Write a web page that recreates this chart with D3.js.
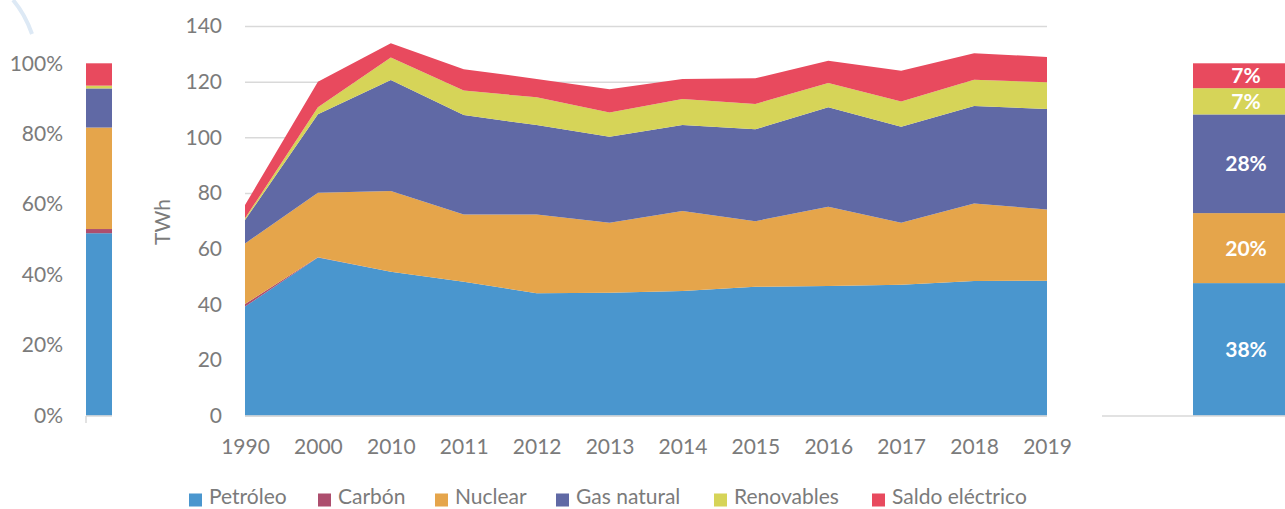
<!DOCTYPE html>
<html>
<head>
<meta charset="utf-8">
<script src="https://cdn.jsdelivr.net/npm/d3@7"></script>
<style>
    body { margin: 0; background: #fff; }
    svg text { font-family: Lato, "Open Sans", sans-serif; fill: #7b7b7b; }
</style>
</head>
<body>
<div id="canvas"></div>
<script>
var years = ["1990", "2000", "2010", "2011", "2012", "2013", "2014", "2015", "2016", "2017", "2018", "2019"]
var sources = ["Petróleo", "Carbón", "Nuclear", "Gas natural", "Renovables", "Saldo eléctrico"]
var colors = ["#4a96ce", "#ad4e6e", "#e5a54b", "#6069a5", "#d6d458", "#e84a5e"]

var petroleo = [39.2, 56.8, 51.7, 48.1, 44.0, 44.2, 44.8, 46.3, 46.6, 47.0, 48.4, 48.5]
var carbon = [0.9, 0.1, 0, 0, 0, 0, 0, 0, 0, 0, 0, 0]
var nuclear = [21.8, 23.2, 29.0, 24.2, 28.3, 25.1, 28.7, 23.6, 28.5, 22.3, 27.8, 25.6]
var gas = [8.4, 28.2, 39.9, 35.7, 32.1, 30.9, 30.9, 33.0, 35.7, 34.5, 35.1, 36.1]
var renovables = [0.6, 2.5, 8.1, 8.8, 10.0, 8.7, 9.4, 9.1, 8.7, 9.1, 9.4, 9.6]
var saldo = [4.8, 9.2, 5.1, 7.7, 6.6, 8.4, 7.2, 9.2, 8.0, 11.0, 9.5, 9.1]

var yTicks = [0, 20, 40, 60, 80, 100, 120, 140]
var pctTicks = [0, 0.2, 0.4, 0.6, 0.8, 1]

var series = [petroleo, carbon, nuclear, gas, renovables, saldo]
var table = years.map(function(yr, i) {
    var row = {year: yr}
    sources.forEach(function(s, j) { row[s] = series[j][i] })
    return row
})

var width = 1285
var height = 509
var grey = "#d9d9d9"

var svg = d3.select("#canvas").append("svg")
    .attr("width", width)
    .attr("height", height)

// faint watermark arc, top left
svg.append("path")
    .attr("d", "M13,0 Q25,14 32,34")
    .attr("fill", "none")
    .attr("stroke", "#dde9f5")
    .attr("stroke-width", 4)

// ---- main area chart ----
var x = d3.scalePoint().domain(years).range([245, 1047])
var y = d3.scaleLinear().domain([0, 140]).range([415.7, 26])

svg.append("g")
    .attr("transform", "translate(245,0)")
    .call(d3.axisLeft(y).tickValues(yTicks).tickSize(-802).tickFormat(""))
    .call(function(g) {
        g.select(".domain").remove()
        g.selectAll("line").attr("stroke", grey).attr("stroke-width", 1.5)
    })

var stack = d3.stack().keys(sources)
var layers = stack(table)

var area = d3.area()
    .x(function(d) { return x(d.data.year) })
    .y0(function(d) { return y(d[0]) })
    .y1(function(d) { return y(d[1]) })

svg.append("g").selectAll("path")
    .data(layers)
    .join("path")
    .attr("d", area)
    .attr("fill", function(d, i) { return colors[i] })

svg.append("line")
    .attr("x1", 245).attr("x2", 1047)
    .attr("y1", 416).attr("y2", 416)
    .attr("stroke", grey).attr("stroke-width", 1.5)

svg.append("g")
    .attr("transform", "translate(245,0)")
    .call(d3.axisLeft(y).tickValues(yTicks).tickSize(0).tickPadding(23))
    .call(function(g) {
        g.select(".domain").remove()
        g.selectAll("text").style("font-size", "21px").attr("fill", "#7b7b7b")
    })

svg.append("g")
    .attr("transform", "translate(0,415.7)")
    .call(d3.axisBottom(x).tickSize(0).tickPadding(23))
    .call(function(g) {
        g.select(".domain").remove()
        g.selectAll("text").style("font-size", "21px").attr("fill", "#7b7b7b")
    })

svg.append("text")
    .attr("transform", "translate(162.5,222) rotate(-90)")
    .attr("text-anchor", "middle")
    .attr("dy", "0.35em")
    .style("font-size", "21px")
    .text("TWh")

// ---- share bars (1990 left, 2019 right) ----
var pct = d3.scaleLinear().domain([0, 1]).range([415.7, 63.3])

function shares(i) {
    var total = d3.sum(series, function(s) { return s[i] })
    var acc = 0
    return series.map(function(s, j) {
        var v = s[i] / total
        var seg = {y0: acc, y1: acc + v, share: v, color: colors[j]}
        acc += v
        return seg
    })
}

function makeBar(segs, x0, w, labels) {
    var g = svg.append("g")
    g.selectAll("rect")
        .data(segs)
        .join("rect")
        .attr("x", x0)
        .attr("width", w)
        .attr("y", function(d) { return pct(d.y1) })
        .attr("height", function(d) { return pct(d.y0) - pct(d.y1) })
        .attr("fill", function(d) { return d.color })
    if (labels) {
        g.selectAll("text")
            .data(segs.filter(function(d) { return d.share >= 0.005 }))
            .join("text")
            .attr("x", x0 + w / 2)
            .attr("y", function(d) { return (pct(d.y0) + pct(d.y1)) / 2 })
            .attr("dy", "0.36em")
            .attr("text-anchor", "middle")
            .style("font-size", "21px")
            .style("font-weight", "bold")
            .style("fill", "#fff")
            .text(function(d) { return d3.format(".0%")(d.share) })
    }
}

makeBar(shares(0), 86, 26, false)
makeBar(shares(years.length - 1), 1193, 106, true)

svg.append("g")
    .attr("transform", "translate(86,0)")
    .call(d3.axisLeft(pct).tickValues(pctTicks).tickSize(0).tickPadding(23).tickFormat(d3.format(".0%")))
    .call(function(g) {
        g.select(".domain").remove()
        g.selectAll("text").style("font-size", "21px").attr("fill", "#7b7b7b")
    })

svg.append("line")
    .attr("x1", 86).attr("x2", 112).attr("y1", 416).attr("y2", 416)
    .attr("stroke", grey).attr("stroke-width", 1.5)
svg.append("line")
    .attr("x1", 86).attr("x2", 86).attr("y1", 416).attr("y2", 423)
    .attr("stroke", grey).attr("stroke-width", 1.5)
svg.append("line")
    .attr("x1", 1102).attr("x2", 1285).attr("y1", 416).attr("y2", 416)
    .attr("stroke", grey).attr("stroke-width", 1.5)

// ---- legend ----
var legendX = [189, 318, 435, 556, 714, 872]
var items = svg.append("g").selectAll("g")
    .data(sources)
    .join("g")
    .attr("transform", function(d, i) { return "translate(" + legendX[i] + ",0)" })
items.append("rect")
    .attr("width", 13).attr("height", 13)
    .attr("y", 493.5)
    .attr("fill", function(d, i) { return colors[i] })
items.append("text")
    .attr("x", 20)
    .attr("y", 504)
    .style("font-size", "21px")
    .text(function(d) { return d })
</script>
</body>
</html>
